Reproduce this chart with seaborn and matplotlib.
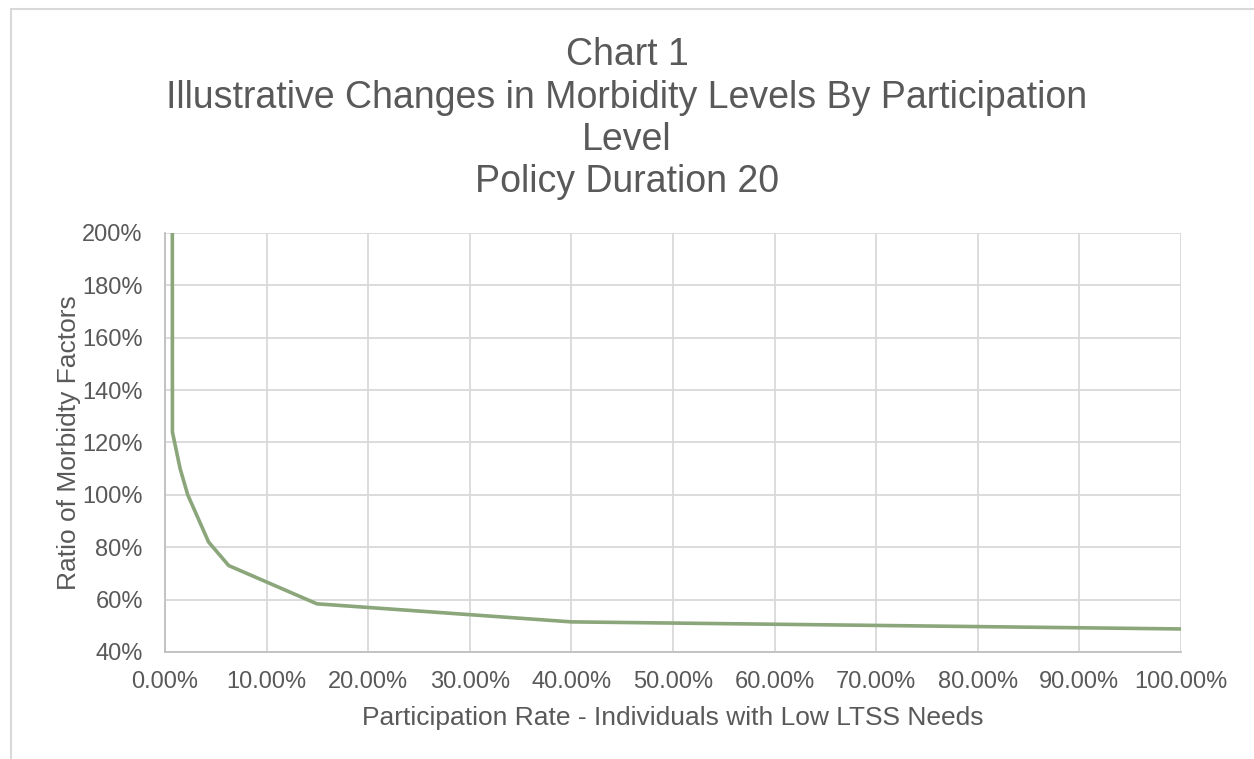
import matplotlib
matplotlib.use("Agg")
import matplotlib.pyplot as plt
import matplotlib.patches as mpatches
from matplotlib.ticker import PercentFormatter, MultipleLocator
import seaborn as sns
import pandas as pd

# Participation rate (%) and ratio of morbidity factors (%)
participation = [0.70, 0.73, 1.49, 2.24, 4.29, 6.27, 14.95, 40.0, 100.0]
morbidity_ratio = [400.0, 124.0, 110.0, 100.0, 82.0, 73.0, 58.4, 51.5, 48.8]

title_lines = [
    "Chart 1",
    "Illustrative Changes in Morbidity Levels By Participation",
    "Level",
    "Policy Duration 20",
]
x_label = "Participation Rate - Individuals with Low LTSS Needs"
y_label = "Ratio of Morbidty Factors"

df = pd.DataFrame({"rate": participation, "ratio": morbidity_ratio})

sns.set_theme(style="white")
plt.rcParams["font.family"] = ["Liberation Sans", "DejaVu Sans"]

W, H = 1254, 759
fig = plt.figure(figsize=(W / 100, H / 100), dpi=100)
ax = fig.add_axes([165 / W, 1 - 652 / H, (1181 - 165) / W, (652 - 233) / H])

text_color = "#595959"
grid_color = "#d9d9d9"

sns.lineplot(data=df, x="rate", y="ratio", sort=False, ax=ax,
             color="#8aa67a", linewidth=2.6, zorder=3)

ax.set_xlim(0, 100)
ax.set_ylim(40, 200)
ax.xaxis.set_major_locator(MultipleLocator(10))
ax.yaxis.set_major_locator(MultipleLocator(20))
ax.xaxis.set_major_formatter(PercentFormatter(decimals=2))
ax.yaxis.set_major_formatter(PercentFormatter(decimals=0))

ax.grid(True, color=grid_color, linewidth=1.3, zorder=0)
for side in ["top", "right"]:
    ax.spines[side].set_visible(False)
for side in ["left", "bottom"]:
    ax.spines[side].set_color("#bfbfbf")
    ax.spines[side].set_linewidth(1.3)

ax.tick_params(axis="both", length=0, labelsize=17, labelcolor=text_color)
ax.tick_params(axis="y", pad=16)
ax.tick_params(axis="x", pad=14)

ax.set_xlabel(x_label, fontsize=19, color=text_color, labelpad=9)
ax.set_ylabel(y_label, fontsize=19, color=text_color, labelpad=1)

# Stacked centred title lines
baselines = [65, 108, 150, 192]
for line, base in zip(title_lines, baselines):
    fig.text(0.5, 1 - base / H, line, ha="center", va="baseline",
             fontsize=27, color=text_color)

# Outer chart frame
fig.patches.append(mpatches.Rectangle((11 / W, -0.1), 1.2, 1 - 9 / H + 0.1,
                                      transform=fig.transFigure, fill=False,
                                      edgecolor=grid_color, linewidth=1.5))

fig.savefig("out.png", dpi=100)
